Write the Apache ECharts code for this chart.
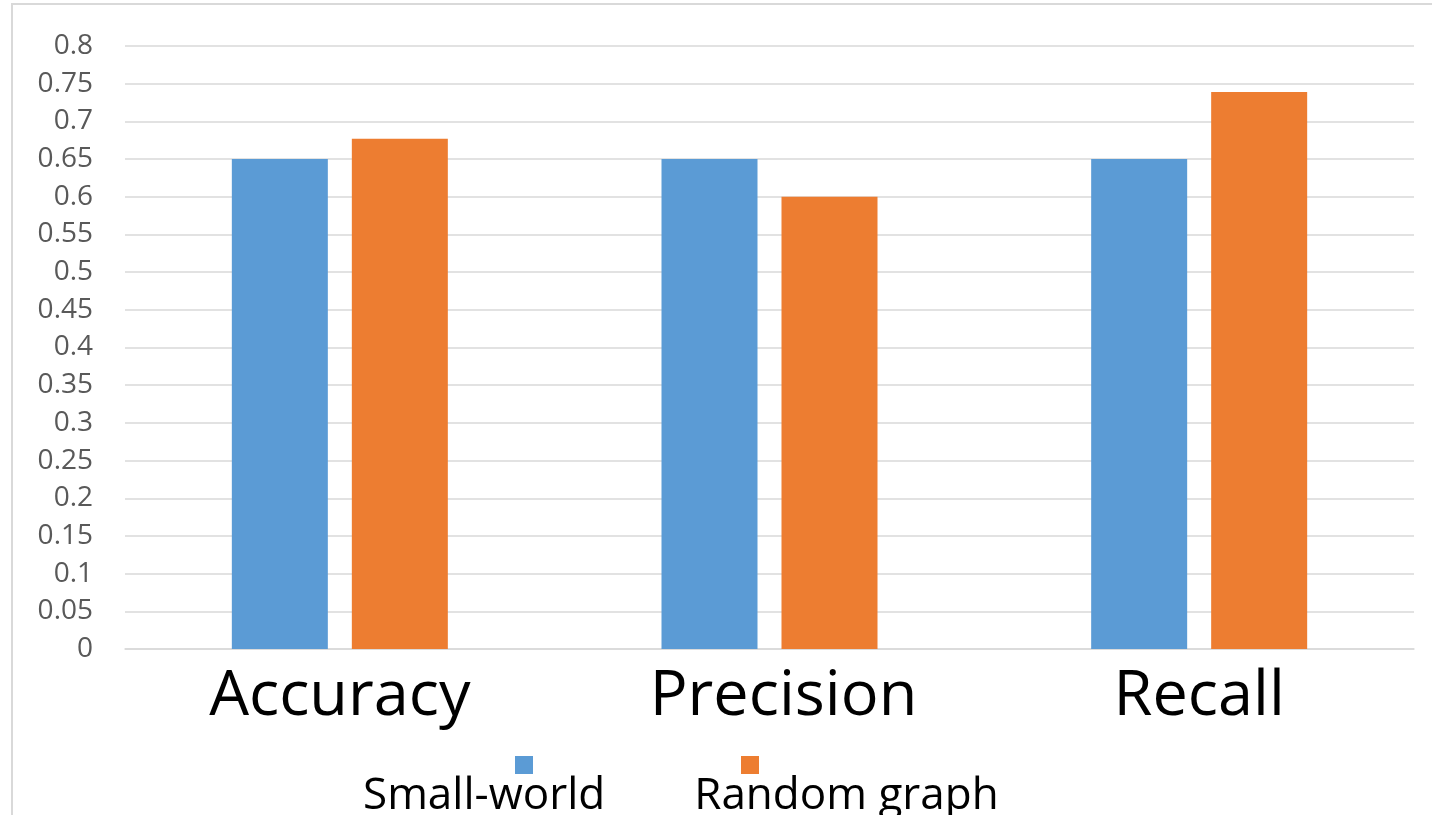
<!DOCTYPE html>
<html>
<head>
<meta charset="utf-8">
<script src="https://cdn.jsdelivr.net/npm/echarts@6/dist/echarts.min.js"></script>
<style>
  html, body { margin: 0; padding: 0; background: #fff; overflow: hidden; }
  #chart { width: 1432px; height: 815px; }
</style>
</head>
<body>
<div id="chart"></div>
<script>
// Metric names along the x axis
const categories = ['Accuracy', 'Precision', 'Recall'];
// Scores for each network model
const smallWorld = [0.65, 0.65, 0.65];
const randomGraph = [0.677, 0.6, 0.739];
const seriesNames = ['Small-world', 'Random graph'];
// Value axis range and step
const yMin = 0;
const yMax = 0.8;
const yStep = 0.05;

const FONT = '"Open Sans", "Liberation Sans", sans-serif';
const chart = echarts.init(document.getElementById('chart'), null, { renderer: 'canvas' });

// The middle label sits a little right of its band centre
const categoryData = categories.map(name =>
  name === 'Precision' ? { value: name, textStyle: { padding: [0, 0, 0, 28] } } : name
);

chart.setOption({
  backgroundColor: '#ffffff',
  animation: false,
  color: ['#5B9BD5', '#ED7D31'],
  graphic: [{
    type: 'rect',
    shape: { x: 12, y: 4, width: 1460, height: 860 },
    style: { fill: 'none', stroke: '#d9d9d9', lineWidth: 2 },
    silent: true,
    z: -10
  }],
  grid: { left: 125, right: 18, top: 46, bottom: 166, containLabel: false },
  legend: [
    {
      // colour swatches
      data: seriesNames,
      left: 515,
      top: 756,
      padding: 0,
      icon: 'rect',
      itemWidth: 18,
      itemHeight: 18,
      itemGap: 208,
      formatter: () => '',
      textStyle: { fontSize: 1 },
      selectedMode: false
    },
    {
      // entry names
      data: seriesNames,
      left: 358,
      top: 774,
      padding: 0,
      icon: 'rect',
      itemWidth: 0,
      itemHeight: 0,
      itemGap: 84,
      selectedMode: false,
      textStyle: { fontFamily: FONT, fontSize: 44, color: '#000000' }
    }
  ],
  xAxis: {
    type: 'category',
    data: categoryData,
    axisLine: { show: true, lineStyle: { color: '#d9d9d9', width: 1.5 } },
    axisTick: { show: false },
    axisLabel: { fontFamily: FONT, fontSize: 63, color: '#000000', margin: 17 }
  },
  yAxis: {
    type: 'value',
    min: yMin,
    max: yMax,
    interval: yStep,
    axisLine: { show: false },
    axisTick: { show: false },
    splitLine: { lineStyle: { color: '#d9d9d9', width: 1.5 } },
    axisLabel: {
      fontFamily: FONT,
      fontSize: 28,
      color: '#595959',
      margin: 32,
      formatter: v => String(parseFloat(v.toFixed(2)))
    }
  },
  series: [
    {
      name: seriesNames[0],
      type: 'bar',
      data: smallWorld,
      barWidth: 96,
      barGap: '25%'
    },
    {
      name: seriesNames[1],
      type: 'bar',
      data: randomGraph,
      barWidth: 96,
      barGap: '25%'
    }
  ]
});
</script>
</body>
</html>
